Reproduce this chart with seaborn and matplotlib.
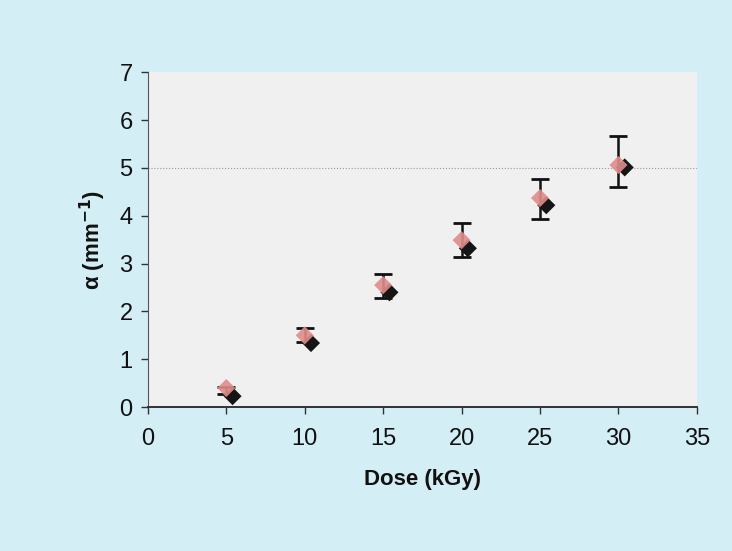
import matplotlib
matplotlib.use("Agg")
import matplotlib.pyplot as plt
import seaborn as sns
import numpy as np
import pandas as pd

# dose values (kGy) and absorption coefficient alpha (mm^-1)
dose = [5, 10, 15, 20, 25, 30]
alpha_pink = [0.40, 1.50, 2.55, 3.49, 4.37, 5.06]
alpha_black = [0.23, 1.34, 2.40, 3.32, 4.22, 5.01]
err_low = [0.28, 1.36, 2.28, 3.13, 3.93, 4.60]
err_high = [0.42, 1.65, 2.78, 3.84, 4.76, 5.66]
black_shift = 0.4

sns.set_style("white")
plt.rcParams["font.family"] = ["Liberation Sans", "DejaVu Sans"]

fig = plt.figure(figsize=(7.32, 5.51), dpi=100)
fig.patch.set_facecolor("#d3eef4")
ax = fig.add_axes([0.202, 0.261, 0.75, 0.608])
ax.set_facecolor("#f0f0f0")

df_pink = pd.DataFrame({"dose": dose, "alpha": alpha_pink})
df_black = pd.DataFrame({"dose": np.array(dose) + black_shift, "alpha": alpha_black})

mid = [(lo + hi) / 2 for lo, hi in zip(err_low, err_high)]
half = [(hi - lo) / 2 for lo, hi in zip(err_low, err_high)]
ax.errorbar(dose, mid, yerr=half, fmt="none", ecolor="#111111",
            elinewidth=1.8, capsize=6.5, capthick=2, zorder=2)

sns.scatterplot(data=df_black, x="dose", y="alpha", marker="D", s=85,
                color="#151515", edgecolor="none", ax=ax, zorder=3)
sns.scatterplot(data=df_pink, x="dose", y="alpha", marker="D", s=85,
                color="#e08c8c", edgecolor="none", alpha=0.9, ax=ax, zorder=4)

ax.axhline(5, color="#9a9a9a", lw=0.8, ls=":", zorder=1)

ax.set_xlim(0, 35)
ax.set_ylim(0, 7)
ax.set_xticks(range(0, 36, 5))
ax.set_yticks(range(0, 8))
ax.tick_params(axis="both", labelsize=17, length=5, width=1,
               direction="out", color="#333333", labelcolor="#111111",
               bottom=True, left=True)
ax.tick_params(axis="x", pad=10)
ax.tick_params(axis="y", pad=6)

for s in ["top", "right"]:
    ax.spines[s].set_visible(False)
ax.spines["left"].set_color("#555555")
ax.spines["bottom"].set_color("#333333")
ax.spines["bottom"].set_linewidth(1.4)

ax.set_xlabel("Dose (kGy)", fontsize=16, fontweight="bold", labelpad=14,
              color="#111111")
ax.set_ylabel("α (mm$^{\\mathbf{-1}}$)", fontsize=16, fontweight="bold",
              labelpad=8, color="#111111")

fig.savefig("out.png", dpi=100, facecolor=fig.get_facecolor())
